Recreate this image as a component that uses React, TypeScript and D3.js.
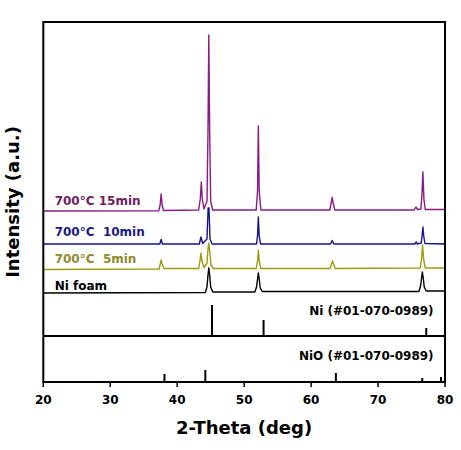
import React from "react";
import * as d3 from "d3";

// 2-Theta (deg) / relative intensity (a.u.) points
const ni_foam: [number, number][] = [
  [20, 0], [44.2, 0.5], [44.45, 6], [44.6, 18], [44.72, 25], [44.85, 18], [45.0, 6], [45.3, 1],
  [51.6, 1], [51.85, 6], [52.0, 14], [52.12, 20], [52.25, 14], [52.4, 5], [52.7, 1.5],
  [76.1, 1.5], [76.35, 7], [76.5, 15], [76.62, 21], [76.75, 15], [76.9, 6], [77.2, 2], [80, 2],
];
const min5: [number, number][] = [
  [20, -0.5], [37.3, 0], [37.5, 6], [37.6, 9], [37.75, 5], [38.0, 0.5],
  [43.2, 0.5], [43.4, 8], [43.55, 16], [43.7, 8], [44.0, 1.5],
  [44.45, 6], [44.6, 20], [44.72, 26], [44.85, 18], [45.05, 4], [45.4, 0.5],
  [51.8, 0.5], [52.0, 8], [52.12, 19], [52.25, 8], [52.5, 0.5],
  [62.85, 0.5], [63.05, 5], [63.2, 8], [63.35, 5], [63.6, 0.5],
  [76.3, 1], [76.5, 10], [76.65, 24], [76.8, 10], [77.05, 1], [80, 1],
];
const min10: [number, number][] = [
  [20, 0], [37.4, 0], [37.6, 4.5], [37.8, 0], [43.3, 0], [43.55, 7], [43.8, 0.5],
  [44.45, 5], [44.62, 36], [44.75, 36], [44.9, 5], [45.2, 0],
  [51.85, 0], [52.0, 8], [52.12, 27], [52.25, 8], [52.45, 0],
  [62.9, 0], [63.15, 3.5], [63.4, 0], [75.5, 0], [75.7, 2], [75.9, 0],
  [76.45, 1], [76.6, 10], [76.7, 17], [76.82, 8], [77.0, 0.5], [80, 0],
];
const min15: [number, number][] = [
  [20, 0], [37.25, 0.3], [37.45, 6], [37.6, 17], [37.75, 6], [37.95, 0.5],
  [43.2, 1], [43.45, 12], [43.6, 29], [43.75, 12], [44.0, 2],
  [44.45, 10], [44.6, 80], [44.72, 176], [44.85, 80], [45.0, 10], [45.3, 1],
  [51.8, 1], [52.0, 20], [52.12, 85], [52.25, 20], [52.5, 1],
  [62.8, 1], [63.0, 8], [63.15, 13.5], [63.3, 8], [63.55, 1],
  [75.4, 1], [75.65, 4], [75.9, 1.5], [76.4, 2], [76.55, 15], [76.7, 39], [76.85, 12], [77.05, 1.5], [80, 1.5],
];
const ni_ref: [number, number][] = [[45.2, 31], [52.9, 16], [77.2, 8]];
const nio_ref: [number, number][] = [[38.1, 8], [44.2, 12], [63.7, 9], [76.6, 4], [79.4, 5]];

const traceNames = ["Ni foam", "700°C  5min", "700°C  10min", "700°C 15min"];
const traceOffsets = [89, 113, 138, 171];
const traceColors = ["#000000", "#9b9b0e", "#14148f", "#8a1a84"];
const labelColors = ["#000000", "#8c8c2a", "#1a1a88", "#72205f"];
const labelOffsets = [-3, -6, -8, -6];
const refNames = ["Ni (#01-070-0989)", "NiO (#01-070-0989)"];
const refOffsets = [46, 0];
const xTicks = [20, 30, 40, 50, 60, 70, 80];

export default function App() {
  const W = 461, H = 450;
  const x = d3.scaleLinear().domain([20, 80]).range([43.3, 445]);
  const y = d3.scaleLinear().domain([0, 360]).range([382, 22]);
  const traces = [ni_foam, min5, min10, min15];
  const font = "'DejaVu Sans', Verdana, sans-serif";

  return (
    <svg width={W} height={H} style={{ position: "absolute", left: 0, top: 0, background: "#fff" }}>
      {/* Ni reference panel baseline */}
      <line x1={x(20)} x2={x(80)} y1={y(refOffsets[0])} y2={y(refOffsets[0])} stroke="#000" strokeWidth={2} />
      {[ni_ref, nio_ref].map((ref, ri) =>
        ref.map(([p, h], i) => (
          <line key={`r${ri}-${i}`} x1={x(p)} x2={x(p)} y1={y(refOffsets[ri])} y2={y(refOffsets[ri] + h)} stroke="#000" strokeWidth={2} />
        ))
      )}
      {traces.map((t, i) => {
        const line = d3.line<[number, number]>()
          .x((d) => x(d[0]))
          .y((d) => y(d[1] + traceOffsets[i]));
        return <path key={i} d={line(t) || ""} fill="none" stroke={traceColors[i]} strokeWidth={1.4} strokeLinejoin="round" />;
      })}
      {traceNames.map((n, i) => (
        <text key={n} x={x(21.7)} y={y(traceOffsets[i]) + labelOffsets[i]} fill={labelColors[i]}
          fontFamily={font} fontWeight="bold" fontSize={12} style={{ whiteSpace: "pre" }}>{n}</text>
      ))}
      {refNames.map((n, i) => (
        <text key={n} x={x(78.3)} y={i === 0 ? 315 : 360} textAnchor="end" fill="#000"
          fontFamily={font} fontWeight="bold" fontSize={12}>{n}</text>
      ))}
      {/* frame */}
      <rect x={x(20)} y={y(360)} width={x(80) - x(20)} height={y(0) - y(360)} fill="none" stroke="#000" strokeWidth={2} />
      {xTicks.map((t) => (
        <g key={t}>
          <line x1={x(t)} x2={x(t)} y1={y(0)} y2={y(0) + 5} stroke="#000" strokeWidth={1.5} />
          <text x={x(t)} y={404} textAnchor="middle" fontFamily={font} fontWeight="bold" fontSize={12} fill="#000">{t}</text>
        </g>
      ))}
      <text x={(x(20) + x(80)) / 2} y={434} textAnchor="middle" fontFamily={font} fontWeight="bold" fontSize={18} fill="#000">2-Theta (deg)</text>
      <text transform={`translate(19, ${(y(0) + y(360)) / 2}) rotate(-90)`} textAnchor="middle" fontFamily={font} fontWeight="bold" fontSize={18} fill="#000">Intensity (a.u.)</text>
    </svg>
  );
}
